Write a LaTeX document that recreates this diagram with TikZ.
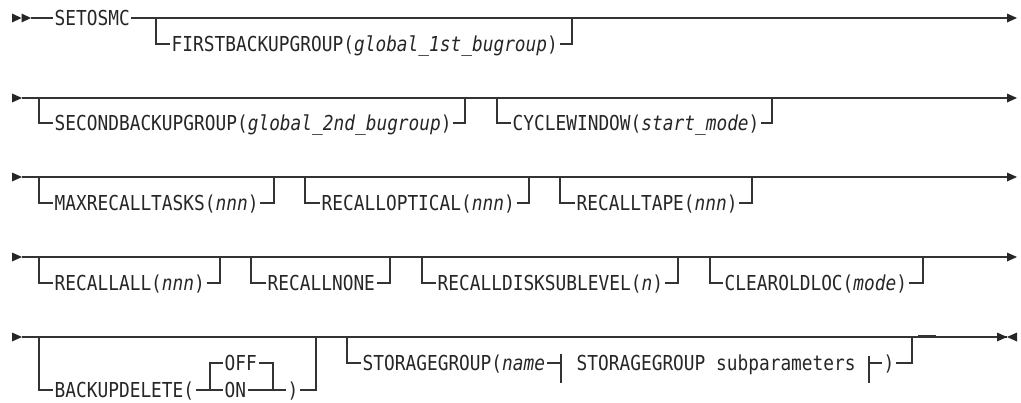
\documentclass[tikz,border=0pt]{standalone}
\usepackage{fontspec}
\newfontfamily\synfont[FakeStretch=0.865]{DejaVu Sans Mono}
\begin{document}
\begin{tikzpicture}[x=1pt,y=-1pt,
  rail/.style={line width=1.1pt, draw=black!80},
  kw/.style={font={\synfont\fontsize{20.6pt}{22pt}\selectfont}, text=black!85, inner xsep=1.5pt, inner ysep=0pt, text height=15pt, text depth=0pt, anchor=west},
  tipfill/.style={fill=black!85, draw=none}]
\useasboundingbox (0,0) rectangle (1021,402);

% ---------------- Row 1 (main y=18) ----------------
\fill[tipfill] (12,13.5) -- (21.5,18) -- (12,22.5) -- cycle;
\fill[tipfill] (21.5,13.5) -- (31,18) -- (21.5,22.5) -- cycle;
\coordinate (s1) at (31,18);
\coordinate (e1) at (1007,18);
\node[kw] (setosmc) at (53,18) {SETOSMC};
\draw[rail] (s1) -- (setosmc.west);
\draw[rail] (setosmc.east) -- (e1);
\fill[tipfill] (1007,13.5) -- (1017,18) -- (1007,22.5) -- cycle;
\node[kw] (fbg) at (170,44) {FIRSTBACKUPGROUP(\textit{global\_1st\_bugroup})};
\draw[rail] (156,18) |- (fbg.west);
\draw[rail] (fbg.east) -| (572,18);

% ---------------- Row 2 (main y=98) ----------------
\fill[tipfill] (12,93.5) -- (22,98) -- (12,102.5) -- cycle;
\coordinate (s2) at (22,98);
\coordinate (e2) at (1007,98);
\draw[rail] (s2) -- (e2);
\fill[tipfill] (1007,93.5) -- (1017,98) -- (1007,102.5) -- cycle;
\node[kw] (sbg) at (53,123) {SECONDBACKUPGROUP(\textit{global\_2nd\_bugroup})};
\draw[rail] (39,98) |- (sbg.west);
\draw[rail] (sbg.east) -| (465,98);
\node[kw] (cyc) at (511,123) {CYCLEWINDOW(\textit{start\_mode})};
\draw[rail] (497,98) |- (cyc.west);
\draw[rail] (cyc.east) -| (772,98);

% ---------------- Row 3 (main y=177) ----------------
\fill[tipfill] (12,172.5) -- (22,177) -- (12,181.5) -- cycle;
\coordinate (s3) at (22,177);
\coordinate (e3) at (1007,177);
\draw[rail] (s3) -- (e3);
\fill[tipfill] (1007,172.5) -- (1017,177) -- (1007,181.5) -- cycle;
\node[kw] (mrt) at (53,203) {MAXRECALLTASKS(\textit{nnn})};
\draw[rail] (39,177) |- (mrt.west);
\draw[rail] (mrt.east) -| (274,177);
\node[kw] (rop) at (320,203) {RECALLOPTICAL(\textit{nnn})};
\draw[rail] (305,177) |- (rop.west);
\draw[rail] (rop.east) -| (529,177);
\node[kw] (rtp) at (575,203) {RECALLTAPE(\textit{nnn})};
\draw[rail] (560,177) |- (rtp.west);
\draw[rail] (rtp.east) -| (752,177);

% ---------------- Row 4 (main y=257) ----------------
\fill[tipfill] (12,252.5) -- (22,257) -- (12,261.5) -- cycle;
\coordinate (s4) at (22,257);
\coordinate (e4) at (1007,257);
\draw[rail] (s4) -- (e4);
\fill[tipfill] (1007,252.5) -- (1017,257) -- (1007,261.5) -- cycle;
\node[kw] (ral) at (53,283) {RECALLALL(\textit{nnn})};
\draw[rail] (39,257) |- (ral.west);
\draw[rail] (ral.east) -| (220,257);
\node[kw] (rno) at (266,283) {RECALLNONE};
\draw[rail] (251,257) |- (rno.west);
\draw[rail] (rno.east) -| (390,257);
\node[kw] (rds) at (436,283) {RECALLDISKSUBLEVEL(\textit{n})};
\draw[rail] (422,257) |- (rds.west);
\draw[rail] (rds.east) -| (678,257);
\node[kw] (col) at (723,283) {CLEAROLDLOC(\textit{mode})};
\draw[rail] (710,257) |- (col.west);
\draw[rail] (col.east) -| (923,257);

% ---------------- Row 5 (main y=337) ----------------
\fill[tipfill] (12,332.5) -- (22,337) -- (12,341.5) -- cycle;
\coordinate (s5) at (22,337);
\coordinate (e5) at (1007,337);
\draw[rail] (s5) -- (e5);
\fill[tipfill] (997,332.5) -- (1007,337) -- (997,341.5) -- cycle;
\fill[tipfill] (1017,332.5) -- (1007,337) -- (1017,341.5) -- cycle;
\draw[rail] (918,336) -- (936,336);
% BACKUPDELETE
\node[kw] (bd) at (53,390) {BACKUPDELETE(};
\draw[rail] (39,337) |- (bd.west);
\node[kw] (off) at (223,363) {OFF};
\node[kw] (on) at (223,390) {ON};
\node[kw] (rp1) at (286,390) {)};
\draw[rail] (bd.east) -- (on.west);
\draw[rail] (210,390) |- (off.west);
\draw[rail] (off.east) -| (273,390);
\draw[rail] (on.east) -- (rp1.west);
\draw[rail] (rp1.east) -| (316,337);
% STORAGEGROUP
\node[kw] (sg) at (361,363) {STORAGEGROUP(\textit{name}};
\draw[rail] (347,337) |- (sg.west);
\coordinate (barL) at (561,363);
\draw[rail] (sg.east) -- (barL);
\draw[rail] (561,353.5) -- (561,383);
\node[kw] (sp) at (575,363) {STORAGEGROUP subparameters};
\coordinate (barR) at (869,363);
\draw[rail] (869,356) -- (869,383);
\node[kw] (rp2) at (882,363) {)};
\draw[rail] (barR) -- (rp2.west);
\draw[rail] (rp2.east) -| (912,337);
\end{tikzpicture}
\end{document}
